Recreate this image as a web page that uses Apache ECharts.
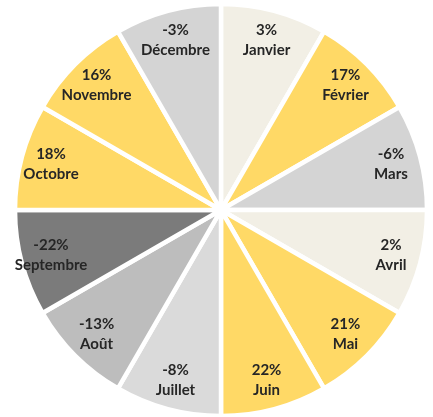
<!DOCTYPE html>
<html>
<head>
<meta charset="utf-8">
<script src="https://cdn.jsdelivr.net/npm/echarts@6/dist/echarts.min.js"></script>
<style>
  html, body { margin: 0; padding: 0; background: #ffffff; }
  #chart { width: 433px; height: 417px; }
</style>
</head>
<body>
<div id="chart"></div>
<script>
// Monthly change, one equal slice per month, clockwise from the top
const months = ['Janvier', 'Février', 'Mars', 'Avril', 'Mai', 'Juin',
                'Juillet', 'Août', 'Septembre', 'Octobre', 'Novembre', 'Décembre'];
const changes = [3, 17, -6, 2, 21, 22, -8, -13, -22, 18, 16, -3];

// Fill colour by size of the change
function colourFor(v) {
  if (v >= 10) return '#FFD966';
  if (v > 0) return '#F2EFE5';
  if (v > -7) return '#D4D4D4';
  if (v > -10) return '#DADADA';
  if (v > -20) return '#BDBDBD';
  return '#7B7B7B';
}

const slices = months.map((m, i) => ({
  name: m,
  value: 1,
  change: changes[i],
  itemStyle: { color: colourFor(changes[i]) }
}));

const chart = echarts.init(document.getElementById('chart'), null, { renderer: 'canvas' });
chart.setOption({
  animation: false,
  series: [
    {
      type: 'pie',
      center: [221, 210],
      radius: [0, 206],
      startAngle: 90,
      clockwise: true,
      silent: true,
      label: { show: false },
      labelLine: { show: false },
      itemStyle: { borderColor: '#ffffff', borderWidth: 4.5 },
      data: slices
    },
    {
      // transparent ring that carries the labels near the rim
      type: 'pie',
      center: [221, 210],
      radius: [140, 206],
      startAngle: 90,
      clockwise: true,
      silent: true,
      itemStyle: { color: 'rgba(0,0,0,0)' },
      label: {
        show: true,
        position: 'inside',
        formatter: p => p.data.change + '%\n' + p.name,
        fontFamily: 'Lato',
        fontWeight: 'bold',
        fontSize: 15,
        lineHeight: 20,
        color: '#262626'
      },
      labelLine: { show: false },
      data: slices.map(s => ({ name: s.name, value: s.value, change: s.change }))
    }
  ]
});
</script>
</body>
</html>
